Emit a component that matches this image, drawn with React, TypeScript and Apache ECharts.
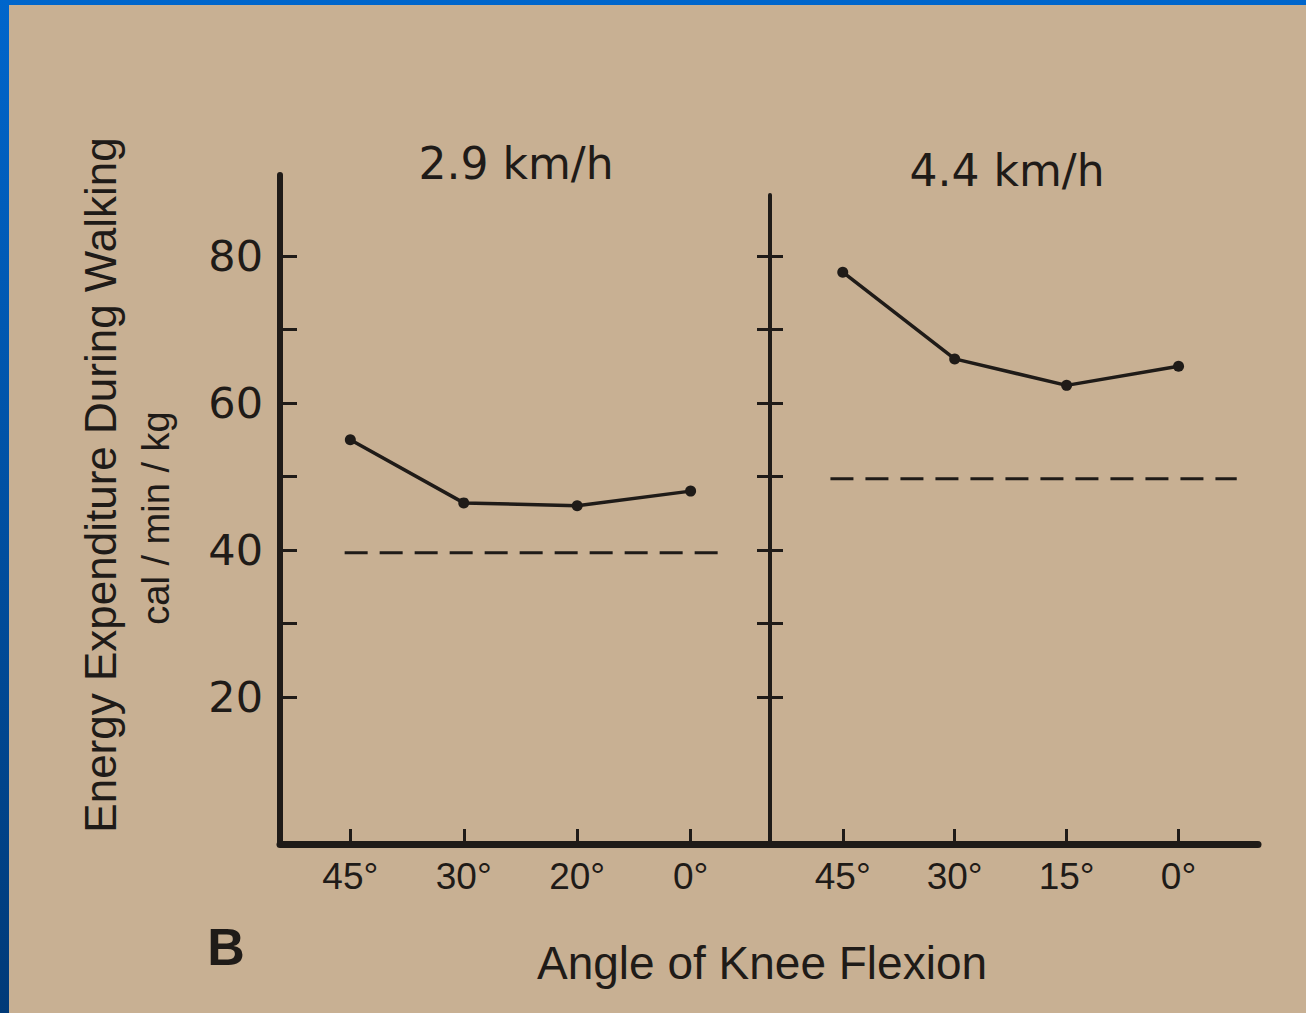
import React, { useEffect, useRef } from "react";
import * as echarts from "echarts";

// ---- data ----
const slowAngles = ["45°", "30°", "20°", "0°"];
const fastAngles = ["45°", "30°", "15°", "0°"];
const slowEnergy = [55.0, 46.4, 46.0, 48.0]; // 2.9 km/h, cal/min/kg
const fastEnergy = [77.8, 66.0, 62.4, 65.0]; // 4.4 km/h
const slowBaseline = 39.6; // dashed reference level, 2.9 km/h
const fastBaseline = 49.7; // dashed reference level, 4.4 km/h
const slowBaselineSpan = [-0.05, 3.28];
const fastBaselineSpan = [-0.11, 3.52];
const yTicks = [20, 30, 40, 50, 60, 70, 80];
const yTickLabels = [20, 40, 60, 80];
const panelTitles = ["2.9 km/h", "4.4 km/h"];

const INK = "#1f1b18";
const SANS = "'Liberation Sans', Arial, sans-serif";
const GEO = "'DejaVu Sans', sans-serif";

export default function App() {
  const ref = useRef<HTMLDivElement>(null);

  useEffect(() => {
    document.body.style.margin = "0";
    const chart = echarts.init(ref.current!, null, { renderer: "svg" });

    const xBase = (labels: string[], gridIndex: number, min: number, max: number) => ({
      type: "value",
      gridIndex,
      min,
      max,
      axisLine: { show: true, onZero: false, lineStyle: { color: INK, width: 7 } },
      axisTick: {
        show: true,
        inside: true,
        length: 15,
        customValues: [0, 1, 2, 3],
        lineStyle: { color: INK, width: 3 },
      },
      axisLabel: {
        show: true,
        customValues: [0, 1, 2, 3],
        formatter: (v: number) => labels[Math.round(v)] ?? "",
        color: INK,
        fontFamily: SANS,
        fontSize: 37,
        margin: 14,
      },
      splitLine: { show: false },
    });

    const option = {
      animation: false,
      backgroundColor: "transparent",
      graphic: [
        {
          type: "rect",
          z: -100,
          silent: true,
          shape: { x: 0, y: 0, width: 1306, height: 1013 },
          style: {
            fill: new echarts.graphic.LinearGradient(0, 0, 0, 1, [
              { offset: 0, color: "#0066cc" },
              { offset: 1, color: "#003a78" },
            ]),
          },
        },
        {
          type: "rect",
          z: -99,
          silent: true,
          shape: { x: 9, y: 5, width: 1297, height: 1008 },
          style: { fill: "#c8b093" },
        },
        {
          type: "text",
          x: 516,
          y: 163,
          style: {
            text: panelTitles[0],
            fill: INK,
            font: `44px ${GEO}`,
            align: "center",
            verticalAlign: "middle",
          },
        },
        {
          type: "text",
          x: 1007,
          y: 170,
          style: {
            text: panelTitles[1],
            fill: INK,
            font: `44px ${GEO}`,
            align: "center",
            verticalAlign: "middle",
          },
        },
        {
          type: "text",
          x: 100,
          y: 485,
          rotation: Math.PI / 2,
          style: {
            text: "Energy Expenditure During Walking",
            fill: INK,
            font: `44px ${SANS}`,
            align: "center",
            verticalAlign: "middle",
          },
        },
        {
          type: "text",
          x: 156,
          y: 518,
          rotation: Math.PI / 2,
          style: {
            text: "cal / min / kg",
            fill: INK,
            font: `38px ${SANS}`,
            align: "center",
            verticalAlign: "middle",
          },
        },
        {
          type: "text",
          x: 226,
          y: 947,
          style: {
            text: "B",
            fill: INK,
            font: `bold 52px ${SANS}`,
            align: "center",
            verticalAlign: "middle",
          },
        },
        {
          type: "text",
          x: 762,
          y: 963,
          style: {
            text: "Angle of Knee Flexion",
            fill: INK,
            font: `46px ${SANS}`,
            align: "center",
            verticalAlign: "middle",
          },
        },
      ],
      grid: [
        { left: 280, top: 175, width: 490, height: 669 },
        { left: 770, top: 195, width: 488, height: 649 },
      ],
      xAxis: [xBase(slowAngles, 0, -0.62, 3.7), xBase(fastAngles, 1, -0.65, 3.71)],
      yAxis: [
        {
          type: "value",
          gridIndex: 0,
          position: "left",
          min: 0,
          max: 91,
          axisLine: { show: true, onZero: false, lineStyle: { color: INK, width: 6 } },
          axisTick: {
            show: true,
            inside: true,
            length: 17,
            customValues: yTicks,
            lineStyle: { color: INK, width: 3 },
          },
          axisLabel: {
            show: true,
            customValues: yTickLabels,
            color: INK,
            fontFamily: GEO,
            fontSize: 43,
            margin: 17,
          },
          splitLine: { show: false },
        },
        {
          type: "value",
          gridIndex: 1,
          position: "left",
          min: 0,
          max: 88.3,
          axisLine: { show: true, onZero: false, lineStyle: { color: INK, width: 4 } },
          axisTick: {
            show: true,
            inside: true,
            length: 13,
            customValues: yTicks,
            lineStyle: { color: INK, width: 3 },
          },
          axisLabel: { show: false },
          splitLine: { show: false },
        },
        {
          type: "value",
          gridIndex: 1,
          position: "left",
          offset: 0,
          min: 0,
          max: 88.3,
          axisLine: { show: false, onZero: false },
          axisTick: {
            show: true,
            inside: false,
            length: 13,
            customValues: yTicks,
            lineStyle: { color: INK, width: 3 },
          },
          axisLabel: { show: false },
          splitLine: { show: false },
        },
      ],
      series: [
        {
          type: "line",
          xAxisIndex: 0,
          yAxisIndex: 0,
          data: slowEnergy.map((v, i) => [i, v]),
          symbol: "circle",
          symbolSize: 11,
          itemStyle: { color: INK },
          lineStyle: { color: INK, width: 3.5 },
          z: 5,
        },
        {
          type: "line",
          xAxisIndex: 0,
          yAxisIndex: 0,
          data: slowBaselineSpan.map((x) => [x, slowBaseline]),
          symbol: "none",
          lineStyle: { color: INK, width: 3, type: [23, 12] },
        },
        {
          type: "line",
          xAxisIndex: 1,
          yAxisIndex: 1,
          data: fastEnergy.map((v, i) => [i, v]),
          symbol: "circle",
          symbolSize: 11,
          itemStyle: { color: INK },
          lineStyle: { color: INK, width: 3.5 },
          z: 5,
        },
        {
          type: "line",
          xAxisIndex: 1,
          yAxisIndex: 1,
          data: fastBaselineSpan.map((x) => [x, fastBaseline]),
          symbol: "none",
          lineStyle: { color: INK, width: 3, type: [23, 12] },
        },
      ],
    };

    chart.setOption(option as any);
    return () => chart.dispose();
  }, []);

  return <div ref={ref} style={{ width: 1306, height: 1013 }} />;
}
